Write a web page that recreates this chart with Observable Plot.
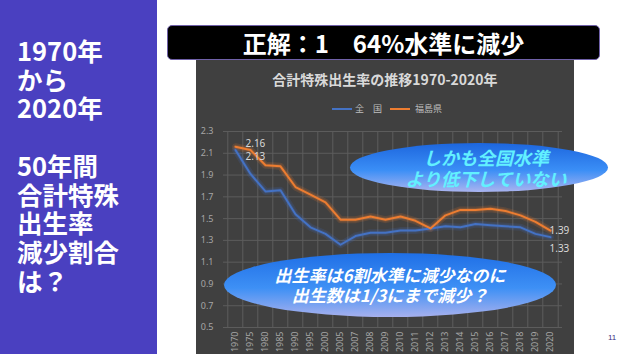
<!DOCTYPE html>
<html><head><meta charset="utf-8">
<script src="https://cdn.jsdelivr.net/npm/d3@7"></script>
<script src="https://cdn.jsdelivr.net/npm/@observablehq/plot@0.6"></script>
<style>
body{margin:0;width:631px;height:354px;overflow:hidden;background:#fff;position:relative;font-family:"Noto Sans CJK JP","Noto Sans",sans-serif;}
#side{position:absolute;left:0;top:0;width:157px;height:354px;background:#4a40c0;}
#sidetext{position:absolute;left:17px;top:36px;color:#fff;font-weight:bold;font-size:25.5px;line-height:28.7px;white-space:pre;}
#chartbox{position:absolute;left:196px;top:52px;width:378px;height:302px;background:#404040;}
#answer{position:absolute;left:167px;top:25px;width:431px;height:33px;background:#000;border:1px solid #6f60a8;border-radius:5px;color:#fff;font-weight:bold;font-size:24px;line-height:33px;text-align:center;white-space:pre;}
#ctitle{position:absolute;left:196px;top:69px;width:378px;text-align:center;color:#d9d9d9;font-weight:bold;font-size:14px;line-height:20px;}
.lg-sw{position:absolute;height:2px;width:20px;top:108px;}
.lg-tx{position:absolute;top:102px;font-size:9px;line-height:14px;color:#bfbfbf;white-space:pre;}
#plot{position:absolute;left:196px;top:118px;}
.ell{position:absolute;border-radius:50%;display:flex;align-items:center;justify-content:center;text-align:center;font-weight:bold;font-style:italic;white-space:pre;}
#ell1{left:350px;top:143px;width:258px;height:49px;background:linear-gradient(to bottom,#1d66de 0%,#3a8ef6 55%,#aab4f0 100%);color:#62f0ff;font-size:18px;line-height:21px;padding-left:14px;box-sizing:border-box;}
#ell2{left:224px;top:253px;width:332px;height:64px;background:linear-gradient(to bottom,#1f6fe6 0%,#3e90f5 55%,#a6b0ee 100%);color:#fff;font-size:17px;line-height:20px;}
#pno{position:absolute;left:608px;top:333px;font-size:8px;color:#3b2f80;font-family:"Liberation Sans",sans-serif;}
</style></head>
<body>
<div id="side"><div id="sidetext"></div></div>
<div id="chartbox"></div>
<div id="answer"></div>
<div id="ctitle"></div>
<div id="legend"></div>
<div id="plot"></div>
<div id="ell1" class="ell"></div>
<div id="ell2" class="ell"></div>
<div id="pno">11</div>
<script>
const sideLines = ["1970年","から","2020年","","50年間","合計特殊","出生率","減少割合","は？"];
const answerText = "正解：1　64%水準に減少";
const chartTitle = "合計特殊出生率の推移1970-2020年";
const seriesNames = ["全　国","福島県"];
const seriesColors = ["#4472c4","#ed7d31"];
const callout1 = ["しかも全国水準","より低下していない"];
const callout2 = ["出生率は6割水準に減少なのに","出生数は1/3にまで減少？"];

const years = ["1970","1975","1980","1985","1990","1995","2000","2005","2007","2008","2009","2010","2011","2012","2013","2014","2015","2016","2017","2018","2019","2020"];
const national  = [2.13,1.91,1.75,1.76,1.54,1.42,1.36,1.26,1.34,1.37,1.37,1.39,1.39,1.41,1.43,1.42,1.45,1.44,1.43,1.42,1.36,1.33];
const fukushima = [2.16,2.13,1.99,1.98,1.79,1.72,1.65,1.49,1.49,1.52,1.49,1.52,1.48,1.41,1.53,1.58,1.58,1.59,1.57,1.53,1.47,1.39];
const yTicks = [0.5,0.7,0.9,1.1,1.3,1.5,1.7,1.9,2.1,2.3];

document.getElementById("sidetext").textContent = sideLines.join("\n");
document.getElementById("answer").textContent = answerText;
document.getElementById("ctitle").textContent = chartTitle;
document.getElementById("ell1").textContent = callout1.join("\n");
document.getElementById("ell2").textContent = callout2.join("\n");

const lg = document.getElementById("legend");
const lgPos = [[332,355],[390,415]];
seriesNames.forEach((n,i)=>{
  const sw = document.createElement("div"); sw.className="lg-sw"; sw.style.left=lgPos[i][0]+"px"; sw.style.background=seriesColors[i]; lg.appendChild(sw);
  const tx = document.createElement("div"); tx.className="lg-tx"; tx.style.left=lgPos[i][1]+"px"; tx.textContent=n; lg.appendChild(tx);
});

const rows = years.flatMap((y,i)=>[
  {year:y, series:seriesNames[0], value:national[i]},
  {year:y, series:seriesNames[1], value:fukushima[i]}
]);

const W=378, H=236, ml=27, mr=12, mt=13, mb=27;
const step = (W-ml-mr)/years.length;
const first = years[0], last = years[years.length-1];
const lbl = {fill:"#d9d9d9", fontSize:10, textAnchor:"start"};

const chart = Plot.plot({
  width:W, height:H, marginLeft:ml, marginRight:mr, marginTop:mt, marginBottom:mb,
  style:{background:"transparent", fontFamily:"'Noto Sans',sans-serif", fontSize:"9px", color:"#a6a6a6", overflow:"visible"},
  x:{type:"point", domain:years, padding:0.5, tickRotate:-90, tickSize:0, tickPadding:4, label:null},
  y:{domain:[0.5,2.3], ticks:yTicks, tickFormat:d=>d.toFixed(1), tickSize:0, tickPadding:10, label:null},
  color:{domain:seriesNames, range:seriesColors},
  marks:[
    Plot.ruleY(yTicks,{y:d=>d, stroke:"#5c5c5c", strokeWidth:1}),
    Plot.ruleX(years,{x:d=>d, dx:-step/2, stroke:"#5c5c5c", strokeWidth:1}),
    Plot.ruleX([last],{x:d=>d, dx:step/2, stroke:"#5c5c5c", strokeWidth:1}),
    Plot.line(rows,{x:"year", y:"value", z:"series", stroke:"series", strokeWidth:7, strokeOpacity:0.16}),
    Plot.line(rows,{x:"year", y:"value", z:"series", stroke:"series", strokeWidth:4, strokeOpacity:0.2}),
    Plot.line(rows,{x:"year", y:"value", z:"series", stroke:"series", strokeWidth:2}),
    Plot.text([fukushima[0]],{x:()=>first, y:d=>d, text:d=>d.toFixed(2), dx:10, dy:-3, ...lbl}),
    Plot.text([national[0]],{x:()=>first, y:d=>d, text:d=>d.toFixed(2), dx:10, dy:7, ...lbl}),
    Plot.text([fukushima[fukushima.length-1]],{x:()=>last, y:d=>d, text:d=>d.toFixed(2), dx:-1, dy:0, ...lbl}),
    Plot.text([national[national.length-1]],{x:()=>last, y:d=>d, text:d=>d.toFixed(2), dx:-1, dy:12, ...lbl})
  ]
});
document.getElementById("plot").appendChild(chart);
</script>
</body></html>
